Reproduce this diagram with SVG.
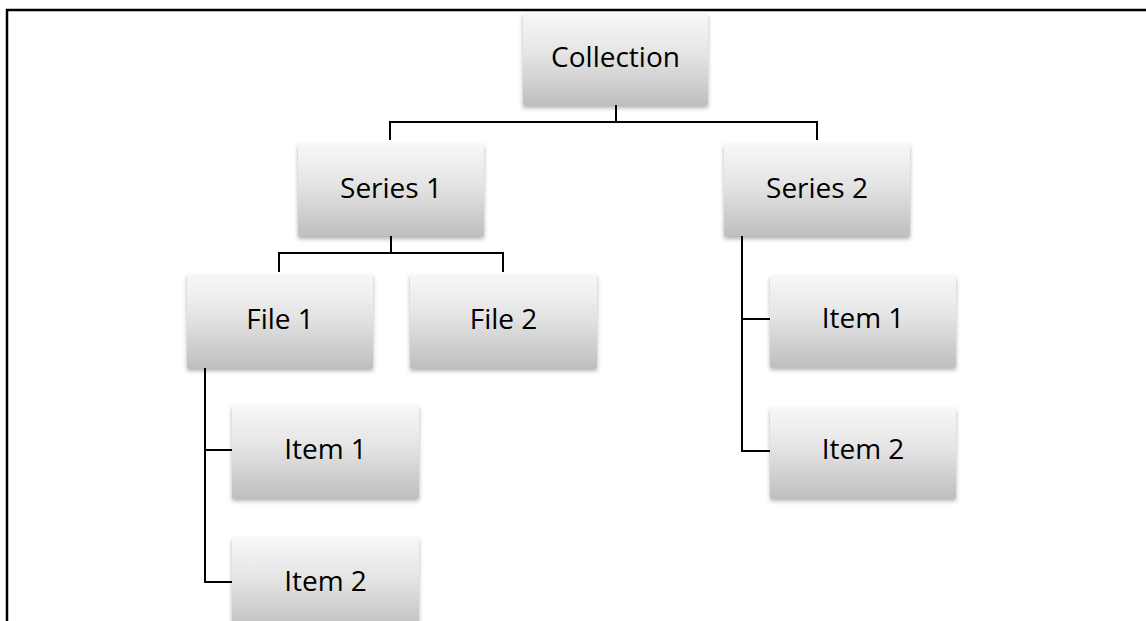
<svg xmlns="http://www.w3.org/2000/svg" width="1146" height="621" viewBox="0 0 1146 621">
  <style>
    .box { fill: url(#boxFill); filter: url(#shadow); }
    .label { font-family: "Open Sans", "Liberation Sans", sans-serif; font-size: 28px; fill: #000; text-anchor: middle; }
    .wire { fill: none; stroke: #000; stroke-width: 2; }
    .frame { fill: none; stroke: #000; stroke-width: 2.5; }
  </style>
  <defs>
    <linearGradient id="boxFill" x1="0" y1="0" x2="0" y2="1">
      <stop offset="0" stop-color="#f8f8f8"/>
      <stop offset="0.45" stop-color="#e4e4e4"/>
      <stop offset="1" stop-color="#bfbfbf"/>
    </linearGradient>
    <filter id="shadow" x="-10%" y="-10%" width="120%" height="130%">
      <feDropShadow dx="0" dy="3" stdDeviation="2" flood-color="#000" flood-opacity="0.3"/>
    </filter>
  </defs>

  <rect width="1146" height="621" fill="#fff"/>
  <!-- page frame -->
  <path class="frame" d="M7 621 V10 H1146"/>

  <!-- connectors -->
  <g id="connectors">
    <path class="wire" d="M616 105 V122 M390 140 V122 H817 V140"/>
    <path class="wire" d="M391 236 V253 M279 272 V253 H503 V272"/>
    <path class="wire" d="M205 368 V582 H232 M205 450 H232"/>
    <path class="wire" d="M742 236 V451 H770 M742 319 H770"/>
  </g>

  <g id="collection">
    <rect class="box" x="523" y="13" width="185" height="92"/>
    <text class="label" x="615.5" y="67">Collection</text>
  </g>
  <g id="series1">
    <rect class="box" x="298" y="143" width="186" height="93"/>
    <text class="label" x="391" y="198">Series 1</text>
  </g>
  <g id="series2">
    <rect class="box" x="724" y="143" width="186" height="93"/>
    <text class="label" x="817" y="198">Series 2</text>
  </g>
  <g id="file1">
    <rect class="box" x="187" y="274" width="186" height="94"/>
    <text class="label" x="280" y="329">File 1</text>
  </g>
  <g id="file2">
    <rect class="box" x="410" y="274" width="187" height="94"/>
    <text class="label" x="503.5" y="329">File 2</text>
  </g>
  <g id="file1-item1">
    <rect class="box" x="232" y="405" width="187" height="93"/>
    <text class="label" x="325.5" y="459">Item 1</text>
  </g>
  <g id="file1-item2">
    <rect class="box" x="232" y="537" width="187" height="93"/>
    <text class="label" x="325.5" y="591">Item 2</text>
  </g>
  <g id="series2-item1">
    <rect class="box" x="770" y="275" width="186" height="92"/>
    <text class="label" x="863" y="328">Item 1</text>
  </g>
  <g id="series2-item2">
    <rect class="box" x="770" y="407" width="186" height="91"/>
    <text class="label" x="863" y="459">Item 2</text>
  </g>
</svg>
